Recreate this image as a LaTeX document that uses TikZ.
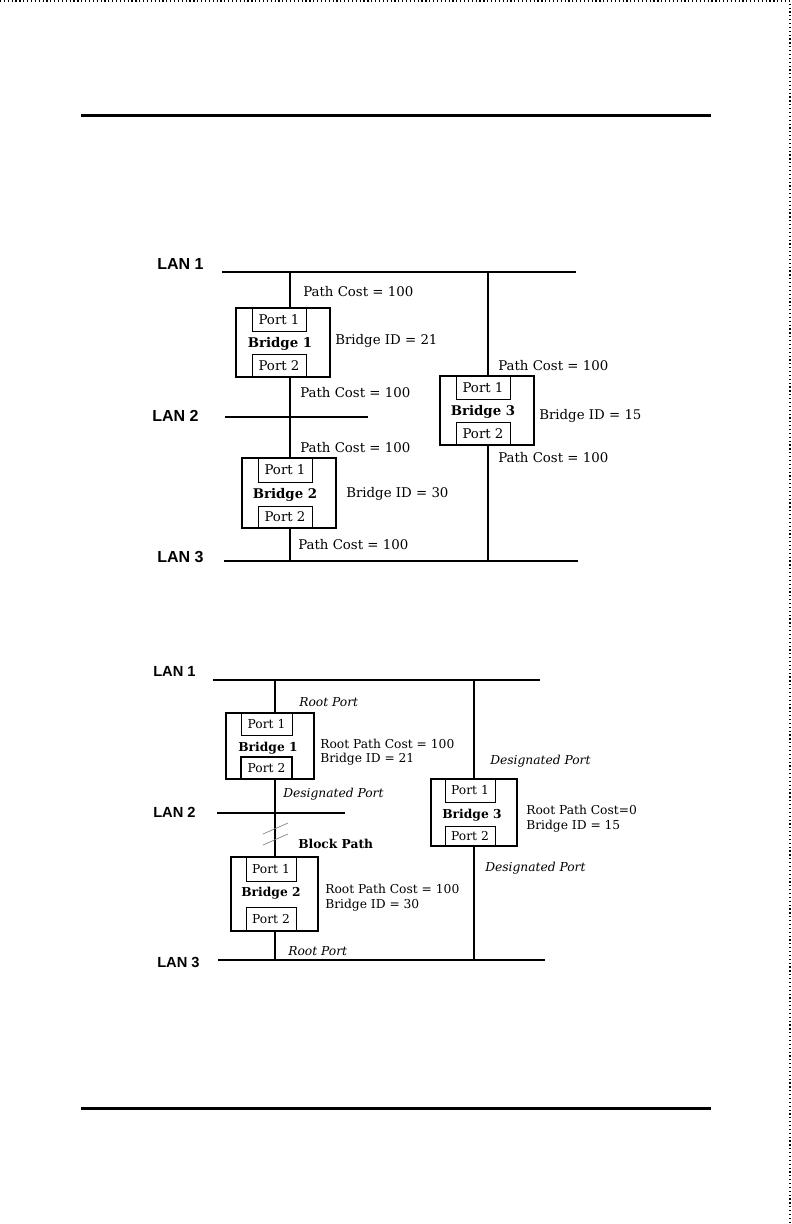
\documentclass[tikz,border=0pt]{standalone}
\usepackage{fontspec}
\setmainfont{DejaVu Serif}
\newfontfamily\lanfont{Liberation Sans}

\begin{document}
\begin{tikzpicture}[x=0.75pt, y=-0.75pt,
    rule/.style={line width=2.25pt},
    pageedge/.style={dotted, line width=0.9pt},
    lan/.style={line width=1.9pt},
    trunk/.style={line width=1.4pt},
    link/.style={line width=0.8pt},
    bridgebox/.style={draw, line width=1.2pt, inner sep=0pt},
    portbox/.style={draw, line width=0.6pt, inner sep=0pt},
    toplan/.style={font=\lanfont\bfseries\fontsize{12}{14}\selectfont, anchor=base west, inner sep=0pt, yshift=-4.3pt},
    botlan/.style={font=\lanfont\bfseries\fontsize{11}{13}\selectfont, anchor=base west, inner sep=0pt, yshift=-3.95pt},
    toptext/.style={font=\fontsize{10}{12}\selectfont, anchor=base west, inner sep=0pt, yshift=-3.65pt},
    bottext/.style={font=\fontsize{9.2}{11}\selectfont, anchor=base west, inner sep=0pt, yshift=-3.35pt},
    blockmark/.style={gray, line width=0.5pt}]

    \def\px{0.75pt}

    \useasboundingbox (0,0) rectangle (792,1224);

    % page frame and rules
    \draw[pageedge] (0,1) -- (790,1) -- (790,1224);
    \draw[rule] (81,115) -- (711,115);
    \draw[rule] (81,1108) -- (711,1108);

    % ---------- path costs ----------
    \draw[lan] (222,272) -- (576,272);
    \draw[lan] (225,417) -- (368,417);
    \draw[lan] (224,561) -- (578,561);
    \node[toplan] (tlan1) at (157,264) {LAN 1};
    \node[toplan] (tlan2) at (152,416) {LAN 2};
    \node[toplan] (tlan3) at (157,557) {LAN 3};
    \coordinate (tl1a) at (290,272);
    \coordinate (tl1b) at (488,272);
    \coordinate (tl3a) at (290,561);
    \coordinate (tl3b) at (488,561);

    \node[bridgebox, minimum width=94*\px, minimum height=69*\px] (tb1) at (283,342.5) {};
    \node[portbox, minimum width=54*\px, minimum height=23*\px, font=\fontsize{10}{12}\selectfont] (tb1p1) at (279,319.5) {Port 1};
    \node[portbox, minimum width=54*\px, minimum height=23*\px, font=\fontsize{10}{12}\selectfont] (tb1p2) at (279,365.5) {Port 2};
    \node[font=\bfseries\fontsize{10}{12}\selectfont] (tb1n) at (280,344) {Bridge 1};

    \node[bridgebox, minimum width=94*\px, minimum height=70*\px] (tb2) at (289,493) {};
    \node[portbox, minimum width=54*\px, minimum height=24*\px, font=\fontsize{10}{12}\selectfont] (tb2p1) at (285,470) {Port 1};
    \node[portbox, minimum width=54*\px, minimum height=22*\px, font=\fontsize{10}{12}\selectfont] (tb2p2) at (285,517) {Port 2};
    \node[font=\bfseries\fontsize{10}{12}\selectfont] (tb2n) at (285,495) {Bridge 2};

    \node[bridgebox, minimum width=94*\px, minimum height=69*\px] (tb3) at (487,410.5) {};
    \node[portbox, minimum width=54*\px, minimum height=23*\px, font=\fontsize{10}{12}\selectfont] (tb3p1) at (483,387.5) {Port 1};
    \node[portbox, minimum width=54*\px, minimum height=23*\px, font=\fontsize{10}{12}\selectfont] (tb3p2) at (483,433.5) {Port 2};
    \node[font=\bfseries\fontsize{10}{12}\selectfont] (tb3n) at (483,412) {Bridge 3};

    \draw[trunk] (tl1a) -- (tl1a |- tb1.north);
    \draw[trunk] (tl1a |- tb1.south) -- (tl1a |- tb2.north);
    \draw[trunk] (tl3a |- tb2.south) -- (tl3a);
    \draw[link] (tl1b) -- (tl1b |- tb3.north);
    \draw[link] (tl3b |- tb3.south) -- (tl3b);

    \node[toptext] (tc1) at (303,292) {Path Cost = 100};
    \node[toptext] (tid1) at (335,340) {Bridge ID = 21};
    \node[toptext] (tc2) at (300,393) {Path Cost = 100};
    \node[toptext] (tc3) at (300,448) {Path Cost = 100};
    \node[toptext] (tid2) at (346,493) {Bridge ID = 30};
    \node[toptext] (tc4) at (298,545) {Path Cost = 100};
    \node[toptext] (tc5) at (498,366) {Path Cost = 100};
    \node[toptext] (tid3) at (539,415) {Bridge ID = 15};
    \node[toptext] (tc6) at (498,458) {Path Cost = 100};

    % ---------- spanning tree ----------
    \draw[lan] (213,680) -- (540,680);
    \draw[lan] (217,813) -- (345,813);
    \draw[lan] (218,960) -- (545,960);
    \node[botlan] (blan1) at (153,671) {LAN 1};
    \node[botlan] (blan2) at (153,812) {LAN 2};
    \node[botlan] (blan3) at (157,962) {LAN 3};
    \coordinate (bl1a) at (275,680);
    \coordinate (bl1b) at (474,680);
    \coordinate (bl3a) at (275,960);
    \coordinate (bl3b) at (474,960);

    \node[bridgebox, line width=0.8pt, minimum width=88*\px, minimum height=66*\px] (bb1) at (270,746) {};
    \node[portbox, minimum width=51*\px, minimum height=22*\px, font=\fontsize{9.2}{11}\selectfont] (bb1p1) at (266.5,724) {Port 1};
    \node[portbox, line width=0.9pt, minimum width=51*\px, minimum height=22*\px, font=\fontsize{9.2}{11}\selectfont] (bb1p2) at (266.5,768) {Port 2};
    \node[font=\bfseries\fontsize{9.2}{11}\selectfont] (bb1n) at (268,748) {Bridge 1};

    \node[bridgebox, line width=1.5pt, minimum width=87*\px, minimum height=74*\px] (bb2) at (274.5,894) {};
    \node[portbox, minimum width=50*\px, minimum height=24*\px, font=\fontsize{9.2}{11}\selectfont] (bb2p1) at (271,869) {Port 1};
    \node[portbox, minimum width=50*\px, minimum height=24*\px, font=\fontsize{9.2}{11}\selectfont] (bb2p2) at (271,919) {Port 2};
    \node[font=\bfseries\fontsize{9.2}{11}\selectfont] (bb2n) at (271,893) {Bridge 2};

    \node[bridgebox, line width=1.5pt, minimum width=86*\px, minimum height=67*\px] (bb3) at (474,812.5) {};
    \node[portbox, minimum width=50*\px, minimum height=23*\px, font=\fontsize{9.2}{11}\selectfont] (bb3p1) at (470,790.5) {Port 1};
    \node[portbox, minimum width=50*\px, minimum height=20*\px, font=\fontsize{9.2}{11}\selectfont] (bb3p2) at (470,836) {Port 2};
    \node[font=\bfseries\fontsize{9.2}{11}\selectfont] (bb3n) at (472,815) {Bridge 3};

    \draw[link] (bl1a) -- (bl1a |- bb1.north);
    \draw[link] (bl1a |- bb1.south) -- (bl1a |- bb2.north);
    \draw[link] (bl3a |- bb2.south) -- (bl3a);
    \draw[link] (bl1b) -- (bl1b |- bb3.north);
    \draw[link] (bl3b |- bb3.south) -- (bl3b);

    % blocked path
    \draw[blockmark] (263,834) -- (288,823);
    \draw[blockmark] (263,845) -- (288,834);

    \node[bottext, font=\itshape\fontsize{9.2}{11}\selectfont] (brp1) at (299,702) {Root Port};
    \node[bottext] (brc1) at (320,744) {Root Path Cost = 100};
    \node[bottext] (bid1) at (320,758) {Bridge ID = 21};
    \node[bottext, font=\itshape\fontsize{9.2}{11}\selectfont] (bdp1) at (283,793) {Designated Port};
    \node[bottext, font=\bfseries\fontsize{9.2}{11}\selectfont] (bblock) at (298,844) {Block Path};
    \node[bottext] (brc2) at (325,889) {Root Path Cost = 100};
    \node[bottext] (bid2) at (325,904) {Bridge ID = 30};
    \node[bottext, font=\itshape\fontsize{9.2}{11}\selectfont] (brp2) at (288,951) {Root Port};
    \node[bottext, font=\itshape\fontsize{9.2}{11}\selectfont] (bdp2) at (490,760) {Designated Port};
    \node[bottext] (brc3) at (526,810) {Root Path Cost=0};
    \node[bottext] (bid3) at (526,825) {Bridge ID = 15};
    \node[bottext, font=\itshape\fontsize{9.2}{11}\selectfont] (bdp3) at (485,867) {Designated Port};

\end{tikzpicture}
\end{document}
